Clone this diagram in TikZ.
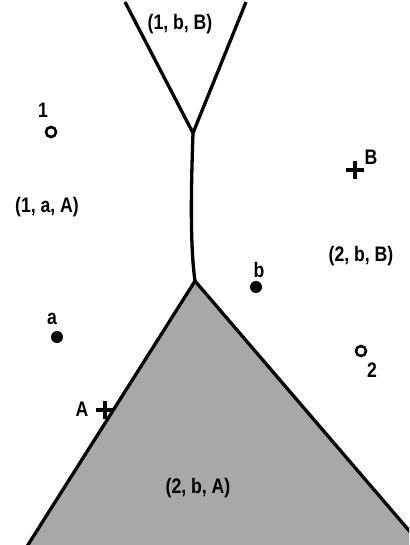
\documentclass[tikz,border=0pt]{standalone}
\usepackage{fontspec}
\setmainfont{Liberation Sans}[FakeStretch=0.84]
\begin{document}
\begin{tikzpicture}[x=1pt,y=-1pt,
  lab/.style={inner sep=0pt, font=\bfseries\fontsize{21}{21}\selectfont},
  ptlab/.style={inner sep=0pt, font=\bfseries\fontsize{21}{21}\selectfont},
  edge/.style={line width=3.3pt, line join=miter},
  hollow/.style={circle, draw, line width=2.6pt, minimum size=10pt, inner sep=0pt},
  solid/.style={circle, fill, minimum size=12pt, inner sep=0pt},
  plus/.style={line width=3.2pt}]
\useasboundingbox (0,0) rectangle (409,545);
\begin{scope}
\clip (0,0) rectangle (409,545);
% coordinates of the diagram
\coordinate (tl) at (125,2);
\coordinate (tr) at (246,2);
\coordinate (v) at (193,133);
\coordinate (apex) at (195,281);
\coordinate (bl) at (26,548);
\coordinate (br) at (424,548);
% shaded triangle
\fill[black!34] (apex) -- (bl) -- (br) -- cycle;
\draw[edge] (bl) -- (apex) -- (br);
% Y shape and stem
\draw[edge] (tl) -- (v) -- (tr);
\draw[edge] (v) .. controls (191,190) and (190,245) .. (apex);
\end{scope}
% region labels
\node[lab] (r1bB) at (180,24) {(1, b, B)};
\node[lab] (r1aA) at (47,207) {(1, a, A)};
\node[lab] (r2bB) at (361,256) {(2, b, B)};
\node[lab] (r2bA) at (198,488) {(2, b, A)};
% points
\node[hollow] (p1) at (51,132) {};
\node[ptlab] (l1) at (43,110) {1};
\node[hollow] (p2) at (361,351) {};
\node[ptlab] (l2) at (372,370) {2};
\node[solid] (pa) at (57,337) {};
\node[ptlab] (la) at (52,319) {a};
\node[solid] (pb) at (256,287) {};
\node[ptlab] (lb) at (259,270) {b};
\coordinate (pB) at (355,170);
\draw[plus] ([xshift=-9pt]pB) -- ([xshift=9pt]pB) ([yshift=-9pt]pB) -- ([yshift=9pt]pB);
\node[ptlab] (lB) at (371,157) {B};
\coordinate (pA) at (105,410);
\draw[plus] ([xshift=-9pt]pA) -- ([xshift=9pt]pA) ([yshift=-9pt]pA) -- ([yshift=9pt]pA);
\node[ptlab] (lA) at (82,409) {A};
\end{tikzpicture}
\end{document}
